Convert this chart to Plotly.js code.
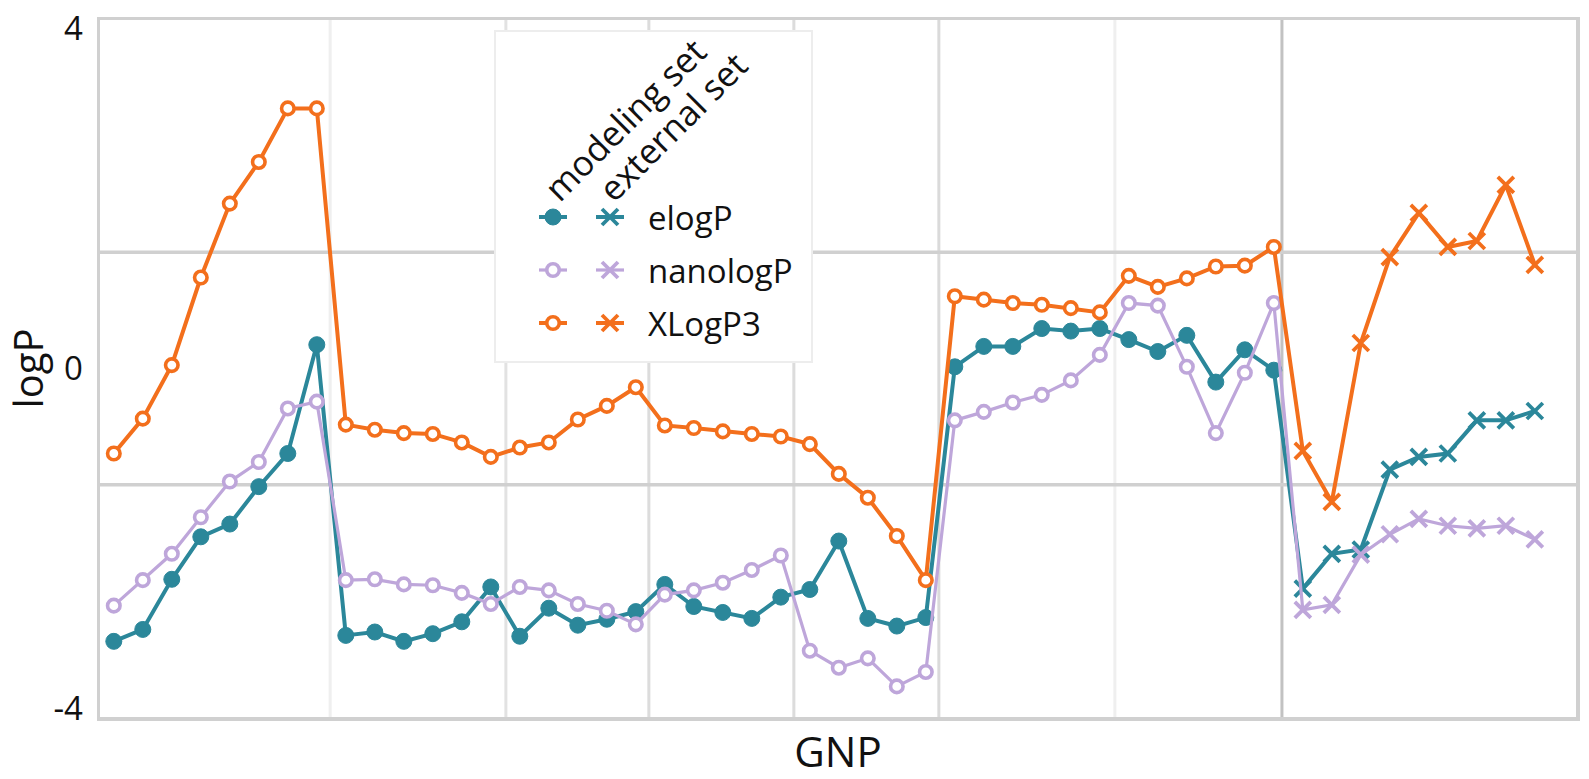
<!DOCTYPE html>
<html><head><meta charset="utf-8">
<script src="https://cdn.plot.ly/plotly-3.0.1.min.js"></script>
<style>html,body{margin:0;padding:0;background:#fff;}#chart{width:1589px;height:779px;}</style>
</head><body><div id="chart"></div>
<script>
// ---------- data ----------
const descriptors = ['elogP', 'nanologP', 'XLogP3'];
const setNames = ['modeling set', 'external set'];

// modeling set: 41 GNPs (index 0..40)
const elogP_modeling = [
  -3.21, -3.07, -2.48, -1.98, -1.83, -1.39, -1.00, 0.28,
  -3.14, -3.10, -3.21, -3.12, -2.98, -2.57, -3.15, -2.82, -3.02, -2.95, -2.86, -2.54, -2.80,
  -2.87, -2.94, -2.69, -2.60, -2.03, -2.94, -3.03, -2.93,
  0.02, 0.26, 0.26, 0.47, 0.44, 0.47, 0.34, 0.20, 0.39, -0.16, 0.22, -0.02
];
const nanologP_modeling = [
  -2.79, -2.49, -2.18, -1.75, -1.33, -1.10, -0.47, -0.39,
  -2.49, -2.48, -2.54, -2.55, -2.64, -2.77, -2.57, -2.61, -2.77, -2.85, -3.01, -2.66, -2.61,
  -2.52, -2.37, -2.20, -3.32, -3.52, -3.41, -3.74, -3.57,
  -0.61, -0.51, -0.40, -0.31, -0.14, 0.16, 0.77, 0.74, 0.02, -0.76, -0.05, 0.77
];
const XLogP3_modeling = [
  -1.00, -0.59, 0.04, 1.07, 1.94, 2.43, 3.06, 3.06,
  -0.66, -0.72, -0.76, -0.77, -0.87, -1.04, -0.93, -0.87, -0.60, -0.44, -0.22, -0.67, -0.70,
  -0.74, -0.77, -0.80, -0.89, -1.24, -1.52, -1.97, -2.49,
  0.85, 0.81, 0.77, 0.75, 0.71, 0.66, 1.09, 0.96, 1.06, 1.20, 1.21, 1.43
];
// external set: 9 GNPs (index 41..49)
const elogP_external    = [-2.59, -2.18, -2.13, -1.19, -1.04, -1.00, -0.61, -0.61, -0.50];
const nanologP_external = [-2.84, -2.78, -2.19, -1.95, -1.77, -1.85, -1.88, -1.85, -2.01];
const XLogP3_external   = [-0.97, -1.57, 0.30, 1.31, 1.83, 1.43, 1.50, 2.16, 1.22];

// y tick labels
const yTickVals = [-4, 0, 4];
const yTickText = ['-4', '0', '4'];

// group separators along the GNP axis (last one separates modeling / external)
const groupSeparators = [7.46, 13.52, 18.45, 23.45, 28.45, 34.52];
const setSeparator = 40.28;

// ---------- styling ----------
const FONT = 'Open Sans, sans-serif';
const colors = {elogP: '#2b879a', nanologP: '#bea6da', XLogP3: '#f36f1c'};
const lineWidths = {elogP: 4, nanologP: 3.2, XLogP3: 4};
const X_RANGE = [-0.476, 50.42];
const Y_RANGE = [-4.1, 4.1];
const M = {l: 100, r: 13, t: 20, b: 62};
const W = 1589, H = 779;
const plotW = W - M.l - M.r, plotH = H - M.t - M.b;
// pixel -> data helpers (for decorations only)
const px2x = p => X_RANGE[0] + (p - M.l) / plotW * (X_RANGE[1] - X_RANGE[0]);
const py2y = p => Y_RANGE[1] - (p - M.t) / plotH * (Y_RANGE[1] - Y_RANGE[0]);

const modelingData = {elogP: elogP_modeling, nanologP: nanologP_modeling, XLogP3: XLogP3_modeling};
const externalData = {elogP: elogP_external, nanologP: nanologP_external, XLogP3: XLogP3_external};

function markerStyle(d, set) {
  if (set === 'modeling set') {
    if (d === 'elogP') return {symbol: 'circle', size: 16, color: colors[d], lw: 1};
    return {symbol: 'circle', size: 12.5, color: '#ffffff', lw: 3.6};
  }
  return {symbol: 'x-thin', size: 16, color: colors[d], lw: 3.8};
}

const traces = [];
descriptors.forEach(d => {
  const ym = modelingData[d], ye = externalData[d];
  const y = ym.concat(ye);
  const x = y.map((_, i) => i);
  const sets = ym.map(() => setNames[0]).concat(ye.map(() => setNames[1]));
  const st = sets.map(s => markerStyle(d, s));
  traces.push({
    type: 'scatter', mode: 'lines+markers', name: d, x: x, y: y,
    line: {color: colors[d], width: lineWidths[d]},
    marker: {
      symbol: st.map(s => s.symbol), size: st.map(s => s.size),
      color: st.map(s => s.color), opacity: 1,
      line: {color: colors[d], width: st.map(s => s.lw)}
    },
    showlegend: false, hoverinfo: 'x+y'
  });
});

// ---------- custom legend (samples + text) ----------
const legendBox = {x0: 495, x1: 812, y0: 31, y1: 362};
const legendRowsY = [217, 270, 323];
const legendColsX = [553, 610];
const sampleHalf = 14;
const annotations = [];
descriptors.forEach((d, r) => {
  setNames.forEach((s, c) => {
    const st = markerStyle(d, s);
    const cx = legendColsX[c];
    traces.push({
      type: 'scatter', mode: 'lines+markers', showlegend: false, hoverinfo: 'skip',
      x: [px2x(cx - sampleHalf), px2x(cx), px2x(cx + sampleHalf)],
      y: [py2y(legendRowsY[r]), py2y(legendRowsY[r]), py2y(legendRowsY[r])],
      line: {color: colors[d], width: lineWidths[d]},
      marker: {symbol: st.symbol, size: st.size, color: st.color, opacity: [0, 1, 0],
               line: {color: colors[d], width: st.lw}}
    });
  });
  annotations.push({
    x: px2x(646), y: py2y(legendRowsY[r]), xref: 'x', yref: 'y', text: d,
    showarrow: false, xanchor: 'left', yanchor: 'middle',
    font: {family: FONT, size: 33, color: '#111111'}
  });
});
const headerCenters = [[624, 119], [672, 126]];
setNames.forEach((s, c) => {
  annotations.push({
    x: px2x(headerCenters[c][0]), y: py2y(headerCenters[c][1]), xref: 'x', yref: 'y',
    text: s, textangle: -45, showarrow: false, xanchor: 'center', yanchor: 'middle',
    font: {family: FONT, size: 35, color: '#111111'}
  });
});

// ---------- grid lines / legend box as shapes ----------
const shapes = [];
const yGrid = [Y_RANGE[0] + (Y_RANGE[1] - Y_RANGE[0]) / 3, Y_RANGE[0] + 2 * (Y_RANGE[1] - Y_RANGE[0]) / 3];
const sepColors = ['#efefef', '#e2e2e2', '#dcdcdc', '#dcdcdc', '#dadada', '#efefef'];
groupSeparators.forEach((v, i) => shapes.push({
  type: 'line', layer: 'below', xref: 'x', yref: 'y', x0: v, x1: v, y0: Y_RANGE[0], y1: Y_RANGE[1],
  line: {color: sepColors[i], width: 3}
}));
shapes.push({type: 'line', layer: 'below', xref: 'x', yref: 'y', x0: setSeparator, x1: setSeparator,
  y0: Y_RANGE[0], y1: Y_RANGE[1], line: {color: '#c2c2c2', width: 3}});
yGrid.forEach(v => shapes.push({
  type: 'line', layer: 'below', xref: 'x', yref: 'y', x0: X_RANGE[0], x1: X_RANGE[1], y0: v, y1: v,
  line: {color: '#d0d0d0', width: 3.5}
}));
shapes.push({type: 'rect', layer: 'below', xref: 'x', yref: 'y',
  x0: px2x(legendBox.x0), x1: px2x(legendBox.x1), y0: py2y(legendBox.y1), y1: py2y(legendBox.y0),
  fillcolor: '#ffffff', line: {color: '#ededed', width: 2}});

const layout = {
  width: W, height: H, margin: M,
  paper_bgcolor: '#ffffff', plot_bgcolor: 'rgba(0,0,0,0)',
  font: {family: FONT, color: '#111111'},
  showlegend: false,
  xaxis: {
    range: X_RANGE, showgrid: false, zeroline: false, showticklabels: false, ticks: '',
    showline: true, mirror: true, linecolor: '#d0d0d0', linewidth: 3.5, automargin: false,
    title: {text: 'GNP', font: {family: FONT, size: 42, color: '#111111'}, standoff: 25}
  },
  yaxis: {
    range: Y_RANGE, tickvals: yTickVals, ticktext: yTickText, showgrid: false, zeroline: false,
    ticks: '', ticklabelstandoff: 7, tickfont: {family: FONT, size: 33, color: '#111111'},
    showline: true, mirror: true, linecolor: '#d0d0d0', linewidth: 3.5, automargin: false,
    title: {text: 'logP', font: {family: FONT, size: 40, color: '#111111'}, standoff: 29}
  },
  shapes: shapes,
  annotations: annotations
};

Plotly.newPlot('chart', traces, layout, {displayModeBar: false, staticPlot: true});
</script>
</body></html>
